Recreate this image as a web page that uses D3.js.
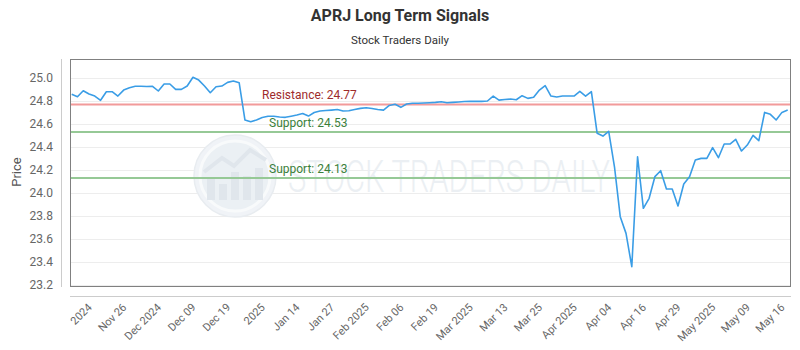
<!DOCTYPE html>
<html><head><meta charset="utf-8">
<script src="https://cdn.jsdelivr.net/npm/d3@7"></script>
<style>
html,body{margin:0;padding:0;background:#fff;}
svg{display:block;font-family:Roboto, "Noto Sans", sans-serif;}
</style></head>
<body><svg id="c" width="800" height="350"></svg>
<script>
const title = "APRJ Long Term Signals";
const subtitle = "Stock Traders Daily";
const prices = [
 24.858, 24.837, 24.889, 24.861, 24.843, 24.806, 24.881, 24.881, 24.843, 24.895,
 24.915, 24.928, 24.928, 24.926, 24.928, 24.887, 24.948, 24.948, 24.901, 24.901,
 24.930, 25.006, 24.982, 24.930, 24.872, 24.924, 24.930, 24.962, 24.974, 24.959,
 24.635, 24.620, 24.635, 24.656, 24.667, 24.667, 24.661, 24.658, 24.668, 24.678,
 24.691, 24.669, 24.700, 24.713, 24.717, 24.721, 24.726, 24.713, 24.715, 24.726,
 24.736, 24.741, 24.735, 24.726, 24.721, 24.761, 24.771, 24.745, 24.774, 24.780,
 24.780, 24.782, 24.785, 24.788, 24.793, 24.785, 24.788, 24.791, 24.795, 24.797,
 24.797, 24.797, 24.800, 24.843, 24.808, 24.813, 24.817, 24.811, 24.846, 24.823,
 24.832, 24.895, 24.933, 24.843, 24.835, 24.843, 24.843, 24.843, 24.884, 24.843,
 24.881, 24.519, 24.495, 24.536, 24.228, 23.794, 23.649, 23.359, 24.315, 23.867,
 23.954, 24.142, 24.194, 24.035, 24.035, 23.887, 24.078, 24.142, 24.287, 24.301,
 24.301, 24.394, 24.307, 24.426, 24.426, 24.467, 24.365, 24.417, 24.501, 24.455,
 24.701, 24.684, 24.635, 24.701, 24.721
];
const xTickLabels = ["2024","Nov 26","Dec 2024","Dec 09","Dec 19","2025","Jan 14","Jan 27","Feb 2025","Feb 06","Feb 19","Mar 2025","Mar 13","Mar 25","Apr 2025","Apr 04","Apr 16","Apr 29","May 2025","May 09","May 16"];
const xTickFirst = 3, xTickEvery = 6;
const yTicks = [23.2, 23.4, 23.6, 23.8, 24.0, 24.2, 24.4, 24.6, 24.8, 25.0];
const levels = [
  {name: "Resistance", value: 24.77},
  {name: "Support", value: 24.53},
  {name: "Support", value: 24.13}
];

const svg = d3.select("#c");
const P = {left: 70, right: 790, top: 59, bottom: 286};
const x = d3.scaleLinear().domain([0, prices.length - 1]).range([71.7, 787.7]);
const y = d3.scaleLinear().domain([23.2, 25.0]).range([285, 78]);

// titles
svg.append("text").attr("x", 400).attr("y", 21).attr("text-anchor", "middle")
  .attr("font-size", 16).attr("font-weight", "bold").attr("fill", "#333").text(title);
svg.append("text").attr("x", 400).attr("y", 44).attr("text-anchor", "middle")
  .attr("font-size", 11.5).attr("fill", "#333").text(subtitle);

// gridlines
svg.append("g").selectAll("line").data(yTicks).join("line")
  .attr("x1", P.left).attr("x2", P.right)
  .attr("y1", d => Math.round(y(d)) + 0.5).attr("y2", d => Math.round(y(d)) + 0.5)
  .attr("stroke", "#ededed").attr("stroke-width", 1);

// watermark
const wm = svg.append("g");
wm.append("circle").attr("cx", 235).attr("cy", 176).attr("r", 41)
  .attr("fill", "#f0f3f7").attr("stroke", "#e8ecf0").attr("stroke-width", 1.5);
wm.append("circle").attr("cx", 235).attr("cy", 176).attr("r", 35)
  .attr("fill", "#ebf0f4").attr("stroke", "#f8fafb").attr("stroke-width", 3);
[[207,178,8,22],[219,184,8,16],[231,172,8,28],[243,176,8,24],[255,168,8,32]].forEach(b=>{
  wm.append("rect").attr("x", b[0]).attr("y", b[1]).attr("width", b[2]).attr("height", b[3]).attr("fill", "#e0e6ec");
});
wm.append("polyline").attr("points", "204,172 222,158 234,166 250,150 266,160")
  .attr("fill", "none").attr("stroke", "#e0e6ec").attr("stroke-width", 4);
wm.append("text").attr("x", 288).attr("y", 192).attr("font-size", 44)
  .attr("textLength", 322).attr("lengthAdjust", "spacingAndGlyphs")
  .attr("fill", "#ebeff3").attr("font-family", "Roboto, sans-serif").attr("font-weight", 300)
  .text("STOCK TRADERS DAILY");

// levels
const lv = svg.append("g");
levels.forEach(l => {
  const isR = l.name === "Resistance";
  lv.append("line").attr("x1", P.left).attr("x2", P.right)
    .attr("y1", y(l.value)).attr("y2", y(l.value))
    .attr("stroke", isR ? "#f29a9a" : "#96c996").attr("stroke-width", 2);
  lv.append("text").attr("x", isR ? 262 : 269).attr("y", y(l.value) - 5)
    .attr("font-size", 12).attr("fill", isR ? "#9e2b2b" : "#3b7f3b")
    .text(l.name + ": " + l.value.toFixed(2));
});

// price line
svg.append("path").datum(prices)
  .attr("d", d3.line().x((d, i) => x(i)).y(d => y(d)))
  .attr("fill", "none").attr("stroke", "#3a9de6").attr("stroke-width", 1.6)
  .attr("stroke-linejoin", "round");

// plot border
svg.append("rect").attr("x", P.left + 0.5).attr("y", P.top + 0.5)
  .attr("width", P.right - P.left).attr("height", P.bottom - P.top)
  .attr("fill", "none").attr("stroke", "#808080").attr("stroke-width", 1);

// y axis
const yAxis = svg.append("g").attr("transform", "translate(61,0)")
  .call(d3.axisLeft(y).tickValues(yTicks).tickFormat(d3.format(".1f")).tickSize(0).tickPadding(8));
yAxis.select(".domain").attr("stroke", "#cccccc").attr("d", `M0.5,${P.top}V${P.bottom + 1}`);
yAxis.selectAll("text").attr("font-size", 12).attr("fill", "#666").attr("font-family", "Roboto, sans-serif");

svg.append("text").attr("transform", "translate(21,172) rotate(-90)")
  .attr("text-anchor", "middle").attr("font-size", 13).attr("fill", "#555").text("Price");

// x axis
const xTickIdx = xTickLabels.map((_, k) => xTickFirst + k * xTickEvery);
const xAxis = svg.append("g").attr("transform", "translate(0,296)")
  .call(d3.axisBottom(x).tickValues(xTickIdx).tickFormat((d, k) => xTickLabels[k]).tickSize(0).tickPadding(0));
xAxis.select(".domain").attr("stroke", "#cccccc").attr("d", `M${P.left},0.5H${P.right + 1}`);
xAxis.selectAll("text")
  .attr("font-size", 11).attr("fill", "#666").attr("font-family", "Roboto, sans-serif")
  .attr("text-anchor", "end").attr("dy", null).attr("y", null)
  .attr("transform", "translate(3,12) rotate(-45)");
</script></body></html>
